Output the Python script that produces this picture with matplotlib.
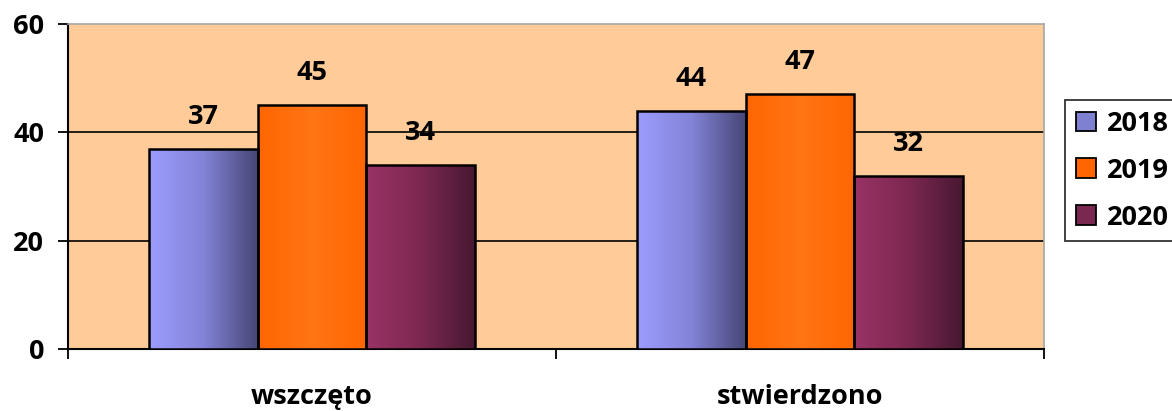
import matplotlib.pyplot as plt
import numpy as np
from matplotlib.colors import LinearSegmentedColormap
from matplotlib.patches import Patch

# dane
categories = ['wszczęto', 'stwierdzono']
years = ['2018', '2019', '2020']
values = {
    '2018': [37, 44],
    '2019': [45, 47],
    '2020': [34, 32],
}
y_ticks = [0, 20, 40, 60]

# gradienty słupków (lewo -> prawo)
gradients = {
    '2018': ['#9c9cff', '#8383d8', '#464676'],
    '2019': ['#ff6600', '#ff7515', '#ff6600'],
    '2020': ['#993366', '#7c2850', '#481832'],
}
legend_colors = {'2018': '#8080d0', '2019': '#ff6600', '2020': '#7a2850'}

plt.rcParams['font.family'] = ['Open Sans', 'DejaVu Sans']
plt.rcParams['font.weight'] = 'bold'
fs = 19.5

fig = plt.figure(figsize=(11.72, 4.11), dpi=100)
ax = fig.add_axes([68 / 1172, 62 / 411, 976 / 1172, 325 / 411])
ax.set_facecolor('#ffcc99')

x = np.arange(len(categories))
width = 0.223
offsets = [-width, 0, width]

for year, off in zip(years, offsets):
    bars = ax.bar(x + off, values[year], width, facecolor='none',
                  edgecolor='black', linewidth=1.8, zorder=4)
    cmap = LinearSegmentedColormap.from_list(year, gradients[year])
    grad = np.linspace(0, 1, 256).reshape(1, -1)
    for b in bars:
        x0, y0 = b.get_x(), b.get_y()
        im = ax.imshow(grad, cmap=cmap, aspect='auto', zorder=3,
                       extent=[x0, x0 + b.get_width(), y0, y0 + b.get_height()])
        im.set_clip_path(b)
        ax.annotate(f'{b.get_height():.0f}',
                    (x0 + b.get_width() / 2, b.get_height()),
                    xytext=(0, 23), textcoords='offset points',
                    ha='center', va='center', fontsize=fs,
                    fontweight='bold', zorder=5)

ax.set_xlim(-0.5, len(categories) - 0.5)
ax.set_ylim(0, 60)

# osie
ax.set_yticks(y_ticks)
ax.set_yticklabels([str(t) for t in y_ticks], fontweight='bold')
ax.tick_params(axis='y', direction='out', length=7, width=1.3, pad=10,
               labelsize=fs)
ax.set_xticks(np.arange(-0.5, len(categories)), labels=[])
ax.set_xticks(x, labels=categories, minor=True, fontweight='bold')
ax.tick_params(axis='x', which='major', direction='out', length=7, width=1.3)
ax.tick_params(axis='x', which='minor', length=0, pad=25, labelsize=fs)

ax.yaxis.grid(True, color='black', linewidth=1.2, zorder=1)
ax.set_axisbelow(True)
gl = ax.get_ygridlines()
gl[-1].set_visible(False)

for s in ['top', 'right']:
    ax.spines[s].set_color('#a6a6a6')
    ax.spines[s].set_linewidth(1.2)
for s in ['left', 'bottom']:
    ax.spines[s].set_color('black')
    ax.spines[s].set_linewidth(1.5)

# legenda
handles = [Patch(facecolor=legend_colors[y], edgecolor='black', linewidth=1.3)
           for y in years]
leg = fig.legend(handles, years, loc='upper left',
                 bbox_to_anchor=(1065 / 1172, 1 - 100 / 411),
                 prop={'size': fs, 'weight': 'bold'}, frameon=True,
                 fancybox=False, edgecolor='black', handlelength=0.74,
                 handleheight=0.74, handletextpad=0.4, labelspacing=0.77,
                 borderpad=0.4, borderaxespad=0)
leg.get_frame().set_linewidth(1.3)

fig.savefig('out.png', dpi=100)
